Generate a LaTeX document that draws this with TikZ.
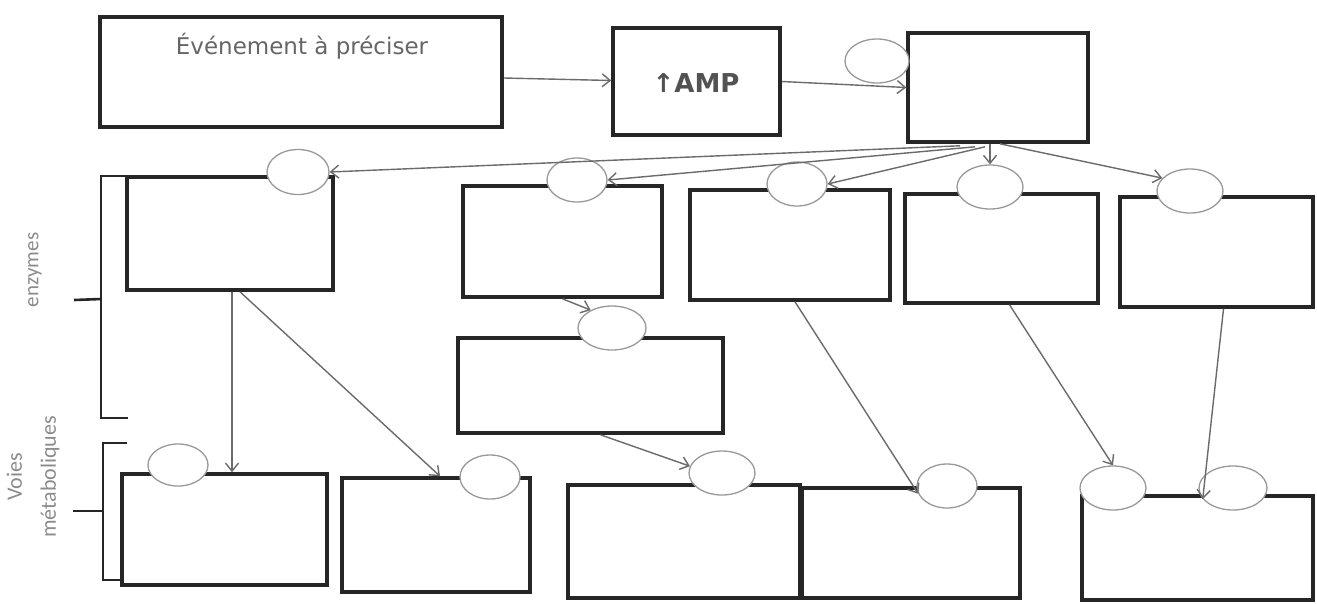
\documentclass[tikz,border=0pt]{standalone}
\usepackage{fontspec}
\setmainfont{DejaVu Sans}
\newfontfamily\lblfont{Carlito}
\usetikzlibrary{shapes.geometric,arrows.meta,calc}
\begin{document}
\begin{tikzpicture}[x=1pt,y=-1pt,
  box/.style={draw=black!85, line width=3.6pt, inner sep=0pt},
  ell/.style={ellipse, draw=black!40, line width=1.3pt, fill=white, inner sep=0pt},
  arr/.style={draw=black!58, line width=1.4pt, -{Straight Barb[length=8pt,width=13pt]}},
  brace/.style={draw=black!85, line width=2.6pt, line join=miter},
  lbl/.style={text=black!45, inner sep=0pt}]
\fill[white] (0,0) rectangle (1317,603);
\useasboundingbox (0,0) rectangle (1317,603);

% top row
\node[box, minimum width=402pt, minimum height=110pt] (ev) at (301,72) {};
\node[lbl, text=black!60, font=\fontsize{23}{27}\selectfont] (evt) at (302,46) {Événement à préciser};
\node[box, minimum width=167pt, minimum height=107pt] (amp) at (696.5,81.5) {};
\node[inner sep=0pt, text=black!68, font=\bfseries\fontsize{26}{30}\selectfont] (ampt) at (696,83) {↑AMP};
\node[box, minimum width=180pt, minimum height=109pt] (pk) at (998,87.5) {};
\node[ell, minimum width=64pt, minimum height=44pt] (c0) at (877,61) {};

% enzymes row
\node[box, minimum width=206pt, minimum height=113pt] (e1) at (230,233.5) {};
\node[box, minimum width=199pt, minimum height=111pt] (e2) at (562.5,241.5) {};
\node[box, minimum width=200pt, minimum height=110pt] (e3) at (790,245) {};
\node[box, minimum width=193pt, minimum height=109pt] (e4) at (1001.5,248.5) {};
\node[box, minimum width=193pt, minimum height=110pt] (e5) at (1216.5,252) {};
\node[box, minimum width=265pt, minimum height=95pt] (e6) at (590.5,385.5) {};

% metabolic row
\node[box, minimum width=205pt, minimum height=111pt] (m1) at (224.5,529.5) {};
\node[box, minimum width=188pt, minimum height=114pt] (m2) at (436,535) {};
\node[box, minimum width=232pt, minimum height=113pt] (m3) at (684,541.5) {};
\node[box, minimum width=218pt, minimum height=110pt] (m4) at (911,543) {};
\node[box, minimum width=231pt, minimum height=104pt] (m5) at (1197.5,548) {};

% ellipses
\node[ell, minimum width=62pt, minimum height=45pt] (c1) at (298,172) {};
\node[ell, minimum width=60pt, minimum height=44pt] (c2) at (577,180) {};
\node[ell, minimum width=60pt, minimum height=44pt] (c3) at (797,184) {};
\node[ell, minimum width=66pt, minimum height=44pt] (c4) at (990,187) {};
\node[ell, minimum width=66pt, minimum height=44pt] (c5) at (1190,191) {};
\node[ell, minimum width=68pt, minimum height=44pt] (c6) at (612,328) {};
\node[ell, minimum width=60pt, minimum height=42pt] (d1) at (178,465) {};
\node[ell, minimum width=60pt, minimum height=44pt] (d2) at (490,477) {};
\node[ell, minimum width=66pt, minimum height=44pt] (d3) at (722,473) {};
\node[ell, minimum width=60pt, minimum height=44pt] (d4) at (947,486) {};
\node[ell, minimum width=66pt, minimum height=44pt] (d5) at (1113,488) {};
\node[ell, minimum width=68pt, minimum height=44pt] (d6) at (1233,488) {};

% connectors
\draw[arr] ($(ev.east)+(0,6)$) -- ($(amp.west)+(0,-1)$);
\draw[arr] (amp.east) -- (pk.west);
\draw[arr] ($(pk.south)+(-38,2)$) -- (c1.east);
\draw[arr] ($(pk.south)+(-23,3)$) -- (c2.east);
\draw[arr] ($(pk.south)+(-13,3)$) -- (c3.east);
\draw[arr] ($(pk.south)+(-8,0)$) -- (c4.north);
\draw[arr] ($(pk.south)+(2,0)$) -- (c5.155);
\draw[arr] ([xshift=2pt]e1.south) -- ([xshift=2pt]e1.south |- m1.north);
\draw[arr] ($(e1.south)+(10,0)$) -- ($(m2.north)+(4,0)$);
\draw[arr] (e2.south) -- (c6.140);
\draw[arr] ($(e6.south)+(10,0)$) -- (d3.168);
\draw[arr] ($(e3.south)+(5,0)$) -- (d4.195);
\draw[arr] ($(e4.south)+(8,0)$) -- (d5.north);
\draw[arr] ($(e5.south)+(7,0)$) -- (d6.200);

% braces
\draw[brace] (130,176) -- (101,176) -- (101,418) -- (128,418);
\draw[brace] (101,299) -- (74,300);
\draw[brace] (127,443) -- (103,443) -- (103,580) -- (124,580);
\draw[brace] (103,511) -- (73,511);

% side labels
\node[lbl, rotate=90, font=\lblfont\fontsize{21}{25}\selectfont] (enz) at (35,270) {enzymes};
\node[lbl, rotate=90, align=center, font=\lblfont\fontsize{22}{34}\selectfont] (voies) at (33,477) {Voies\\métaboliques};
\end{tikzpicture}
\end{document}
